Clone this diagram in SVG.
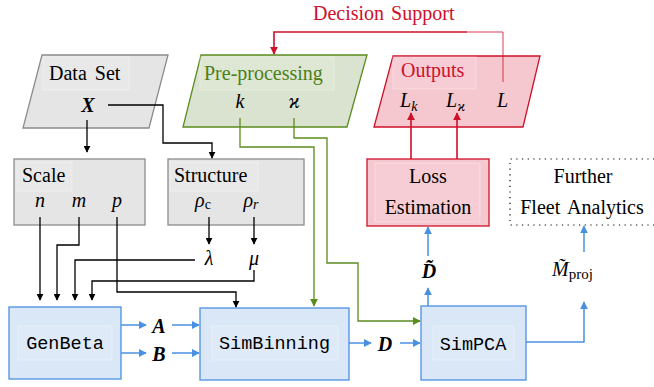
<svg xmlns="http://www.w3.org/2000/svg" width="654" height="387" viewBox="0 0 654 387">
<defs>
<marker id="ak" viewBox="0 0 10 10" refX="9" refY="5" markerWidth="7" markerHeight="7" markerUnits="userSpaceOnUse" orient="auto"><path d="M0,0 L10,5 L0,10 z" fill="#000"/></marker>
<marker id="ab" viewBox="0 0 10 10" refX="9" refY="5" markerWidth="8" markerHeight="8" markerUnits="userSpaceOnUse" orient="auto"><path d="M0,0 L10,5 L0,10 z" fill="#4a90e2"/></marker>
<marker id="ag" viewBox="0 0 10 10" refX="9" refY="5" markerWidth="8" markerHeight="8" markerUnits="userSpaceOnUse" orient="auto"><path d="M0,0 L10,5 L0,10 z" fill="#5b8c1f"/></marker>
<marker id="ar" viewBox="0 0 10 10" refX="9" refY="5" markerWidth="8" markerHeight="8" markerUnits="userSpaceOnUse" orient="auto"><path d="M0,0 L10,5 L0,10 z" fill="#d0102a"/></marker>
</defs>
<style>
text{font-family:"Liberation Serif","Times New Roman",serif;font-size:20px;fill:#000}
.m{font-family:"Liberation Serif",serif;font-style:italic}
.bm{font-family:"Liberation Serif",serif;font-style:italic;font-weight:bold}
.tt{font-family:"Liberation Mono","Courier New",monospace;font-size:18.5px}
.gray{fill:#e5e5e5;stroke:#8c8c8c;stroke-width:1.3}
.green{fill:#dae3cf;stroke:#5b8c1f;stroke-width:1.3}
.red{fill:#f5c7ce;stroke:#d0102a;stroke-width:1.3}
.blue{fill:#dae7f7;stroke:#4a90e2;stroke-width:1.3}
.lbg{fill:#ffffff;fill-opacity:0.12;stroke:#ffffff;stroke-opacity:0.35;stroke-width:1}
.ck{fill:none;stroke:#000;stroke-width:1.3;marker-end:url(#ak)}
.cb{fill:none;stroke:#4a90e2;stroke-width:1.5;marker-end:url(#ab)}
.cg{fill:none;stroke:#5b8c1f;stroke-width:1.3;marker-end:url(#ag)}
.cr{fill:none;stroke:#d0102a;stroke-width:1.6;marker-end:url(#ar)}
</style>

<g id="dataset">
<polygon class="gray" points="42,55 168,55 149,128 23,128"/>
<rect class="lbg" x="43" y="57" width="86" height="33"/>
<text x="49" y="80" word-spacing="3">Data Set</text>
<text class="bm" x="88" y="112" font-size="22" text-anchor="middle">X</text>
</g>

<g id="preprocessing">
<polygon class="green" points="201,55 367,55 347,127 183,127"/>
<rect class="lbg" x="200" y="57" width="134" height="33"/>
<text x="204" y="80" style="fill:#4d7f17">Pre-processing</text>
<text class="m" x="240" y="108" text-anchor="middle">k</text>
<text class="m" x="294" y="108" text-anchor="middle">ϰ</text>
</g>

<g id="outputs">
<polygon class="red" points="393,56 540,56 523,127 374,127"/>
<rect class="lbg" x="393" y="57" width="83" height="32"/>
<text x="401" y="77" style="fill:#d0102a">Outputs</text>
<text class="m" x="400" y="107">L<tspan font-size="14" dy="4">k</tspan></text>
<text class="m" x="446" y="107">L<tspan font-size="14" dy="4">ϰ</tspan></text>
<text class="m" x="497" y="107">L</text>
</g>

<g id="scale">
<rect class="gray" x="14" y="159" width="131" height="66"/>
<rect class="lbg" x="17" y="162" width="55" height="29"/>
<text x="22" y="182">Scale</text>
<text class="m" x="40" y="207" text-anchor="middle">n</text>
<text class="m" x="79" y="207" text-anchor="middle">m</text>
<text class="m" x="117" y="207" text-anchor="middle">p</text>
</g>

<g id="structure">
<rect class="gray" x="168" y="159" width="136" height="66"/>
<rect class="lbg" x="170" y="162" width="88" height="29"/>
<text x="174" y="182">Structure</text>
<text class="m" x="203" y="207" text-anchor="middle">ρ<tspan font-size="14" dy="2" font-style="normal">c</tspan></text>
<text class="m" x="251" y="207" text-anchor="middle">ρ<tspan font-size="14" dy="2">r</tspan></text>
</g>

<g id="lambda"><text class="m" x="209" y="265" text-anchor="middle">λ</text></g>
<g id="mu"><text class="m" x="254" y="265" text-anchor="middle">μ</text></g>

<g id="loss">
<rect class="red" x="367" y="159" width="122" height="67"/>
<rect class="lbg" x="375" y="163" width="105" height="59"/>
<text x="428" y="183" text-anchor="middle">Loss</text>
<text x="428" y="214" text-anchor="middle">Estimation</text>
</g>

<g id="further">
<path d="M660,159 H510 V225 H660" fill="none" stroke="#000" stroke-width="1.2" stroke-dasharray="1.2 4.5"/>
<text x="583" y="183" text-anchor="middle">Further</text>
<text x="582" y="214" text-anchor="middle" word-spacing="3">Fleet Analytics</text>
</g>

<g id="genbeta">
<rect class="blue" x="9" y="307" width="112" height="72"/>
<rect class="lbg" x="18" y="326" width="94" height="34"/>
<text class="tt" x="65" y="349" text-anchor="middle">GenBeta</text>
</g>

<g id="simbinning">
<rect class="blue" x="200" y="308" width="149" height="72"/>
<rect class="lbg" x="212" y="326" width="126" height="34"/>
<text class="tt" x="274.5" y="349" text-anchor="middle">SimBinning</text>
</g>

<g id="simpca">
<rect class="blue" x="421" y="306" width="105" height="74"/>
<rect class="lbg" x="433" y="326" width="81" height="34"/>
<text class="tt" x="473" y="350" text-anchor="middle">SimPCA</text>
</g>

<g id="mathlabels">
<text class="bm" x="159" y="333" font-size="21" text-anchor="middle">A</text>
<text class="bm" x="159" y="361" font-size="21" text-anchor="middle">B</text>
<text class="bm" x="385" y="351" font-size="21" text-anchor="middle">D</text>
<text class="bm" x="429" y="278" font-size="21" text-anchor="middle">D̃</text>
<text x="552" y="276"><tspan class="m">M̃</tspan><tspan font-size="15" dy="3">proj</tspan></text>
</g>

<g id="connectors">
<path class="ck" d="M108,105 H163 V143 H212 V158"/>
<path class="ck" d="M87,120 V152"/>
<path class="ck" d="M209,217 V244"/>
<path class="ck" d="M254,217 V244"/>
<path class="ck" d="M40,217 V300"/>
<path class="ck" d="M79,217 V245 H57 V300"/>
<path class="ck" d="M195,260 H75 V300"/>
<path class="ck" d="M254,270 V281 H92 V300"/>
<path class="ck" d="M117,217 V292 H236 V307"/>
<path class="cb" d="M121,325 H146"/>
<path class="cb" d="M172,325 H199"/>
<path class="cb" d="M121,353 H146"/>
<path class="cb" d="M172,353 H199"/>
<path class="cb" d="M349,343 H371"/>
<path class="cb" d="M400,343 H420"/>
<path class="cb" d="M428,306 V288"/>
<path class="cb" d="M428,256 V227"/>
<path class="cb" d="M526,342 H584 V302"/>
<path class="cb" d="M584,252 V226"/>
<path class="cg" d="M240,118 V147 H314 V306"/>
<path class="cg" d="M294,118 V138 H327 V263 H358 V321 H420"/>
<path class="cr" d="M411,159 V113"/>
<path class="cr" d="M457,159 V113"/>
<path d="M503,82 V32 H467" fill="none" stroke="#d0102a" stroke-width="1" stroke-opacity="0.8"/>
<path class="cr" d="M467,32 H274 V54"/>
</g>

<g id="decision">
<text x="313" y="20" style="fill:#d0102a" word-spacing="2">Decision Support</text>
</g>
</svg>
